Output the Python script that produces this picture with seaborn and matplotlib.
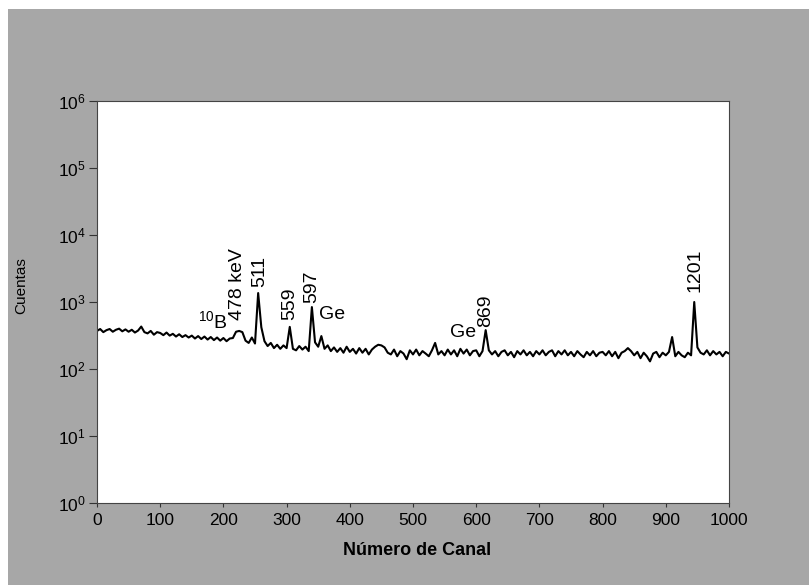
import numpy as np
import matplotlib
matplotlib.use("Agg")
import matplotlib.pyplot as plt
from matplotlib.patches import Rectangle
import seaborn as sns

# gamma spectrum, one value every 5 channels
channels = np.arange(0, 1001, 5)
counts = [
    370, 395, 355, 380, 395, 360, 385, 400, 365, 390,
    360, 385, 350, 375, 430, 355, 340, 370, 325, 355,
    345, 320, 350, 315, 335, 305, 330, 300, 320, 295,
    315, 285, 310, 280, 305, 275, 300, 270, 295, 265,
    290, 260, 285, 290, 360, 370, 355, 265, 245, 295,
    240, 1360, 420, 260, 220, 245, 205, 230, 200, 225,
    205, 425, 200, 190, 220, 195, 215, 185, 840, 250,
    215, 310, 200, 225, 185, 210, 180, 205, 175, 215,
    180, 200, 170, 205, 175, 200, 165, 195, 215, 230,
    225, 210, 175, 165, 195, 155, 185, 170, 140, 190,
    165, 195, 160, 185, 170, 155, 190, 245, 165, 185,
    160, 195, 165, 190, 155, 200, 170, 195, 160, 185,
    190, 155, 185, 380, 190, 165, 185, 155, 180, 190,
    160, 180, 150, 185, 165, 190, 160, 180, 155, 185,
    165, 190, 160, 180, 190, 155, 185, 165, 190, 160,
    180, 155, 185, 165, 150, 180, 160, 185, 155, 175,
    180, 160, 185, 155, 180, 145, 175, 185, 205, 185,
    160, 180, 145, 175, 155, 130, 170, 180, 150, 175,
    160, 180, 300, 155, 180, 160, 150, 175, 160, 1000,
    210, 175, 165, 190, 160, 185, 165, 180, 155, 180,
    170,
]

# peak labels (rotated) and the two Ge escape labels
peak_labels = ["478 keV", "511", "559", "597", "869", "1201"]
peak_x = [223, 258, 305, 340, 615, 946]
peak_y = [540, 1680, 540, 970, 425, 1410]
side_labels = ["Ge", "Ge"]
side_x = [351, 558]
side_y = [640, 345]

sns.set_style("ticks")
plt.rcParams["font.family"] = ["Liberation Sans", "DejaVu Sans"]
plt.rcParams["mathtext.fontset"] = "custom"
plt.rcParams["mathtext.rm"] = "Liberation Sans"
plt.rcParams["mathtext.it"] = "Liberation Sans:italic"
plt.rcParams["mathtext.bf"] = "Liberation Sans:bold"
for k in ["text.color", "axes.labelcolor", "xtick.color", "ytick.color"]:
    plt.rcParams[k] = "black"

fig = plt.figure(figsize=(8.09, 5.85), dpi=100, facecolor="white")
# scanned gray page
fig.patches.append(Rectangle((8 / 809, 0), 1, 1 - 9 / 585, transform=fig.transFigure,
                             facecolor="#a7a7a7", edgecolor="none", zorder=-10))
ax = fig.add_axes([97 / 809, 82 / 585, 632 / 809, 402 / 585])
ax.set_zorder(1)
ax.set_facecolor("white")

sns.lineplot(x=channels, y=counts, ax=ax, color="black", linewidth=1.5)

ax.set_yscale("log")
ax.set_ylim(1, 1e6)
ax.set_xlim(0, 1000)
ax.set_xticks(range(0, 1001, 100))
ax.set_yticks([10.0 ** k for k in range(7)])
ax.set_yticklabels([r"$\mathregular{10^{%d}}$" % k for k in range(7)])
ax.minorticks_off()
ax.tick_params(axis="both", labelsize=12.5, width=0.8, color="#333333")
ax.tick_params(axis="x", length=3, pad=4)
ax.tick_params(axis="y", length=6, pad=2)

for s in ax.spines.values():
    s.set_linewidth(0.8)
    s.set_color("#444444")

ax.set_xlabel("Número de Canal", fontsize=13, fontweight="bold")
ax.xaxis.set_label_coords(0.506, -0.098)
ax.set_ylabel("Cuentas", fontsize=11)
ax.yaxis.set_label_coords(-0.108, 0.542)

for t, x, y in zip(peak_labels, peak_x, peak_y):
    ax.text(x, y, t, rotation=90, ha="center", va="bottom", fontsize=14)
for t, x, y in zip(side_labels, side_x, side_y):
    ax.text(x, y, t, ha="left", va="center", fontsize=14)
ax.text(160, 520, r"$^{10}$B", ha="left", va="center", fontsize=14)

fig.savefig("out.png", dpi=100, facecolor=fig.get_facecolor())
